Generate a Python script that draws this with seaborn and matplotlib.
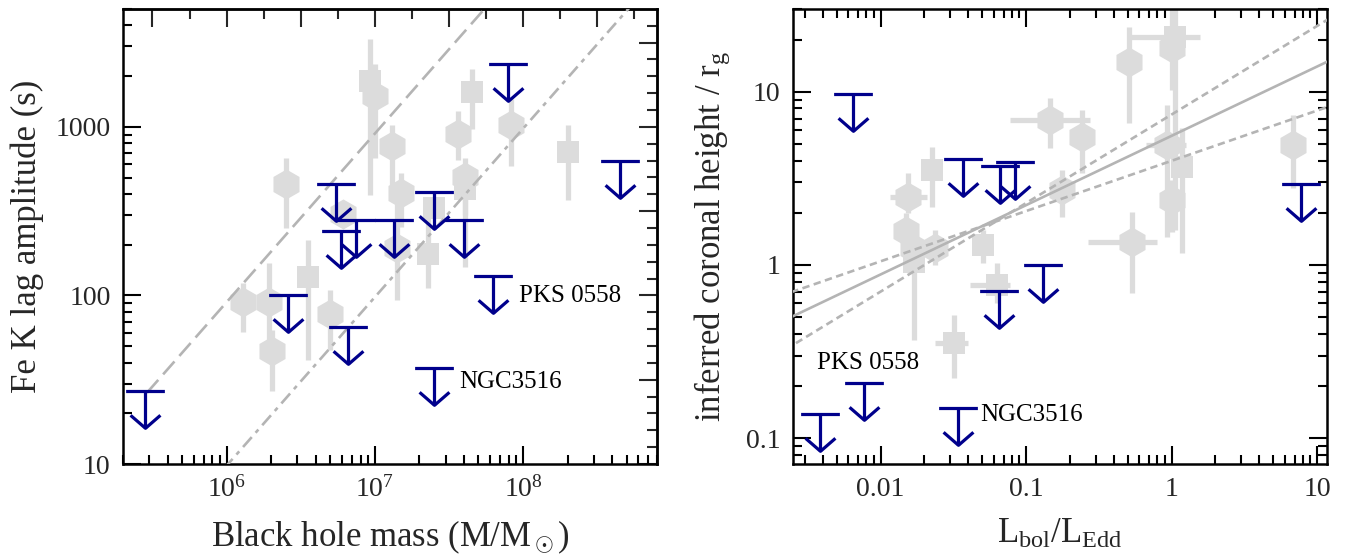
import numpy as np
import pandas as pd
import matplotlib
matplotlib.use("Agg")
import matplotlib.pyplot as plt
from matplotlib.path import Path
from matplotlib.ticker import FixedLocator, NullFormatter, FuncFormatter, LogLocator, LogFormatterSciNotation
import seaborn as sns

# ---------------- data: left panel (lag amplitude vs BH mass) ----------------
left_hex_mass = [1.0e7, 1.3e7, 1.51e7, 1.42e7, 2.5e6, 6.07e6, 1.29e6, 1.93e6, 2.01e6, 5.0e6, 3.63e7, 8.3e7, 4.03e7]
left_hex_lag = [1520, 766, 407, 192, 461, 302, 92, 92, 47, 78, 902, 1030, 507]
left_hex_lo = [657, 425, 256, 94, 252, 302, 61, 51, 27, 47.5, 640, 582, 300]
left_hex_hi = [2350, 1030, 535, 350, 649, 302, 119, 156, 62.5, 108, 1236, 1455, 650]

left_sq_mass = [9.2e6, 2.27e7, 3.54e6, 4.5e7, 2.0e8, 4.03e7, 2.5e7]
left_sq_lag = [1860, 175, 129, 1600, 705, 425, 332]
left_sq_lo = [396, 111, 41.5, 966, 370, 148, 332]
left_sq_hi = [3300, 380, 214, 2190, 1030, 507, 332]

left_ul_mass = [2.8e5, 2.6e6, 6.6e6, 2.5e7, 6.3e7, 7.9e7, 4.5e8, 2.5e7, 4.0e7, 5.5e6, 7.5e6, 1.34e7, 5.9e6]
left_ul_lag = [27, 100, 65, 37, 130, 2350, 625, 410, 282, 455, 282, 282, 242]

left_lines_logoffset = [-4.04, -5.01]   # log(lag) = log(M) + offset
left_lines_style = ["dashed", "dashdot"]

left_labels = ["PKS 0558", "NGC3516"]
left_label_x = [9.45e7, 3.72e7]
left_label_y = [98.6, 30.5]

# ---------------- data: right panel (coronal height vs Eddington ratio) -------
right_hex_x = [0.146, 0.241, 0.0155, 0.0149, 0.0236, 0.0166, 0.512, 1.0, 0.925, 1.01, 0.531, 0.177, 6.86]
right_hex_y = [6.87, 5.48, 2.48, 1.57, 1.25, 1.25, 14.9, 17.9, 4.93, 2.37, 1.36, 2.71, 4.93]
right_hex_xlo = [0.0774, 0.241, 0.0116, 0.0149, 0.0236, 0.0166, 0.512, 1.0, 0.67, 1.01, 0.267, 0.177, 6.86]
right_hex_xhi = [0.275, 0.241, 0.0207, 0.0149, 0.0236, 0.0166, 0.512, 1.0, 1.25, 1.01, 0.789, 0.177, 6.86]
right_hex_ylo = [4.73, 3.4, 2.0, 1.0, 1.0, 0.9, 6.57, 10.2, 1.45, 1.55, 0.687, 1.9, 2.77]
right_hex_yhi = [9.2, 7.84, 3.4, 2.0, 1.6, 1.6, 23.7, 30, 8.38, 3.1, 2.03, 3.53, 7.34]

right_sq_x = [0.0224, 0.0169, 0.0507, 0.0632, 0.0319, 1.05, 1.18]
right_sq_y = [3.53, 1.04, 1.30, 0.767, 0.353, 20.7, 3.69]
right_sq_xlo = [0.0224, 0.0169, 0.0507, 0.0411, 0.0236, 0.516, 1.18]
right_sq_xhi = [0.0224, 0.0169, 0.0507, 0.0774, 0.040, 1.57, 1.18]
right_sq_ylo = [2.17, 0.37, 1.03, 0.6, 0.223, 1.6, 1.17]
right_sq_yhi = [4.8, 1.59, 1.59, 1.03, 0.514, 30, 6.17]

right_ul_x = [0.00643, 0.0366, 0.0664, 0.0834, 0.1305, 0.0648, 0.00774, 0.00381, 0.0341, 7.76]
right_ul_y = [9.66, 4.07, 3.73, 3.95, 1.0, 0.708, 0.208, 0.138, 0.150, 2.92]

# fits: h = norm * (L/LEdd)^slope
right_fit_norm = [5.56, 3.99, 7.38]
right_fit_slope = [0.40, 0.29, 0.511]
right_fit_style = ["solid", "dashed", "dashed"]

right_labels = ["PKS 0558", "NGC3516"]
right_label_x = [0.00365, 0.0481]
right_label_y = [0.272, 0.136]

# ---------------- style ----------------
sns.set_theme(style="ticks")
plt.rcParams["font.family"] = ["Liberation Serif", "DejaVu Serif"]
plt.rcParams["mathtext.fontset"] = "custom"
plt.rcParams["mathtext.rm"] = "Liberation Serif"
plt.rcParams["mathtext.it"] = "Liberation Serif:italic"
plt.rcParams["mathtext.bf"] = "Liberation Serif:bold"

GRAY = "#dcdcdc"
LINEGRAY = "#b4b4b4"
NAVY = "#00008c"
TICK_FS = 20
LABEL_FS = 25
ANN_FS = 18

arrow_path = Path(
    [(-1, 0), (1, 0), (0, 0), (0, -1.9), (-0.77, -1.23), (0, -1.9), (0.77, -1.23)],
    [Path.MOVETO, Path.LINETO, Path.MOVETO, Path.LINETO, Path.MOVETO, Path.LINETO, Path.LINETO],
)

fig = plt.figure(figsize=(13.51, 5.55), dpi=100)
axL = fig.add_axes([123 / 1351, 91 / 555, 534 / 1351, 455 / 555])
axR = fig.add_axes([793 / 1351, 91 / 555, 534 / 1351, 455 / 555])


def draw_points(ax, df, marker, size, xerr=None):
    ax.errorbar(df["x"], df["y"], yerr=[df["y"] - df["ylo"], df["yhi"] - df["y"]],
                xerr=xerr, fmt="none", ecolor=GRAY, elinewidth=3.8, capsize=0, zorder=1)
    sns.scatterplot(data=df, x="x", y="y", marker=marker, s=size, color=GRAY,
                    linewidth=0, ax=ax, zorder=2, legend=False)


def style_axis(ax):
    for sp in ax.spines.values():
        sp.set_linewidth(1.8)
        sp.set_color("black")
    ax.tick_params(which="major", direction="in", length=13, width=1.5, labelsize=TICK_FS,
                   color="black", pad=9)
    ax.tick_params(which="minor", direction="in", length=6.5, width=1.5, color="black")


# ---------- left panel ----------
ax = axL
ax.set_xscale("log")
ax.set_yscale("log")
dfh = pd.DataFrame({"x": left_hex_mass, "y": left_hex_lag, "ylo": left_hex_lo, "yhi": left_hex_hi})
dfs = pd.DataFrame({"x": left_sq_mass, "y": left_sq_lag, "ylo": left_sq_lo, "yhi": left_sq_hi})
draw_points(ax, dfs, "s", 255)
draw_points(ax, dfh, "h", 470)

mgrid = np.logspace(np.log10(2.9e5), 9.5, 100)
for off, ls in zip(left_lines_logoffset, left_lines_style):
    dfl = pd.DataFrame({"x": mgrid, "y": mgrid * 10 ** off})
    line_ls = (0, (6.5, 2.8)) if ls == "dashed" else (0, (5.0, 2.2, 1.6, 2.2))
    sns.lineplot(data=dfl, x="x", y="y", ax=ax, color=LINEGRAY, lw=1.9, linestyle=line_ls,
                 zorder=3, legend=False)

ax.plot(left_ul_mass, left_ul_lag, linestyle="none", marker=arrow_path, markersize=53,
        markerfacecolor="none", markeredgecolor=NAVY, markeredgewidth=2.3, zorder=5)
for t, x, y in zip(left_labels, left_label_x, left_label_y):
    ax.text(x, y, t, fontsize=ANN_FS, va="center", ha="left", color="black", zorder=6)

ax.set_xlim(2.0e5, 8.0e8)
ax.set_ylim(10, 5000)
ax.set_xlabel(r"Black hole mass (M/M$_\odot$)", fontsize=LABEL_FS, labelpad=11)
ax.set_ylabel("Fe K lag amplitude (s)", fontsize=LABEL_FS, labelpad=8)
ax.xaxis.set_major_locator(LogLocator(base=10, numticks=20))
ax.xaxis.set_minor_locator(LogLocator(base=10, subs=np.arange(2, 10), numticks=20))
ax.xaxis.set_major_formatter(LogFormatterSciNotation())
ax.xaxis.set_minor_formatter(NullFormatter())
ax.yaxis.set_major_formatter(FuncFormatter(lambda v, p: f"{v:g}"))
ax.yaxis.set_minor_formatter(NullFormatter())
style_axis(ax)
ax.tick_params(which="both", top=False, right=False)

secx = ax.secondary_xaxis("top")
secx.xaxis.set_major_locator(FixedLocator(10 ** np.arange(5.0, 9.01, 0.5)))
secx.xaxis.set_minor_locator(FixedLocator(10 ** np.arange(5.25, 9.01, 0.5)))
secx.xaxis.set_major_formatter(NullFormatter())
secx.xaxis.set_minor_formatter(NullFormatter())
secx.tick_params(which="major", direction="in", length=13, width=1.5)
secx.tick_params(which="minor", direction="in", length=7, width=1.5)
secx.spines["top"].set_linewidth(1.8)

secy = ax.secondary_yaxis("right")
secy.yaxis.set_major_locator(FixedLocator(10 ** np.arange(1.0, 3.71, 0.5)))
secy.yaxis.set_minor_locator(FixedLocator(10 ** np.arange(1.1, 3.71, 0.1)))
secy.yaxis.set_major_formatter(NullFormatter())
secy.yaxis.set_minor_formatter(NullFormatter())
secy.tick_params(which="major", direction="in", length=13, width=1.5)
secy.tick_params(which="minor", direction="in", length=7, width=1.5)
secy.spines["right"].set_linewidth(1.8)

# ---------- right panel ----------
ax = axR
ax.set_xscale("log")
ax.set_yscale("log")
rh = pd.DataFrame({"x": right_hex_x, "y": right_hex_y, "ylo": right_hex_ylo, "yhi": right_hex_yhi,
                   "xlo": right_hex_xlo, "xhi": right_hex_xhi})
rs = pd.DataFrame({"x": right_sq_x, "y": right_sq_y, "ylo": right_sq_ylo, "yhi": right_sq_yhi,
                   "xlo": right_sq_xlo, "xhi": right_sq_xhi})
draw_points(ax, rs, "s", 255, xerr=[rs["x"] - rs["xlo"], rs["xhi"] - rs["x"]])
draw_points(ax, rh, "h", 470, xerr=[rh["x"] - rh["xlo"], rh["xhi"] - rh["x"]])

lgrid = np.logspace(-3, 1.5, 100)
for nrm, slp, ls in zip(right_fit_norm, right_fit_slope, right_fit_style):
    dfl = pd.DataFrame({"x": lgrid, "y": nrm * lgrid ** slp})
    line_ls = "-" if ls == "solid" else (0, (2.8, 1.7))
    sns.lineplot(data=dfl, x="x", y="y", ax=ax, color=LINEGRAY, lw=1.9, linestyle=line_ls,
                 zorder=3, legend=False)

ax.plot(right_ul_x, right_ul_y, linestyle="none", marker=arrow_path, markersize=53,
        markerfacecolor="none", markeredgecolor=NAVY, markeredgewidth=2.3, zorder=5)
for t, x, y in zip(right_labels, right_label_x, right_label_y):
    ax.text(x, y, t, fontsize=ANN_FS, va="center", ha="left", color="black", zorder=6)

ax.set_xlim(0.0025, 11.7)
ax.set_ylim(0.071, 30)
ax.set_xlabel(r"L$_{\rm bol}$/L$_{\rm Edd}$", fontsize=LABEL_FS, labelpad=12)
ax.set_ylabel(r"inferred coronal height / r$_{\rm g}$", fontsize=LABEL_FS, labelpad=10)
for axis in (ax.xaxis, ax.yaxis):
    axis.set_major_locator(LogLocator(base=10, numticks=20))
    axis.set_minor_locator(LogLocator(base=10, subs=np.arange(2, 10), numticks=20))
    axis.set_major_formatter(FuncFormatter(lambda v, p: f"{v:g}"))
    axis.set_minor_formatter(NullFormatter())
style_axis(ax)
ax.tick_params(which="both", top=True, right=True)

fig.savefig("out.png", dpi=100)
